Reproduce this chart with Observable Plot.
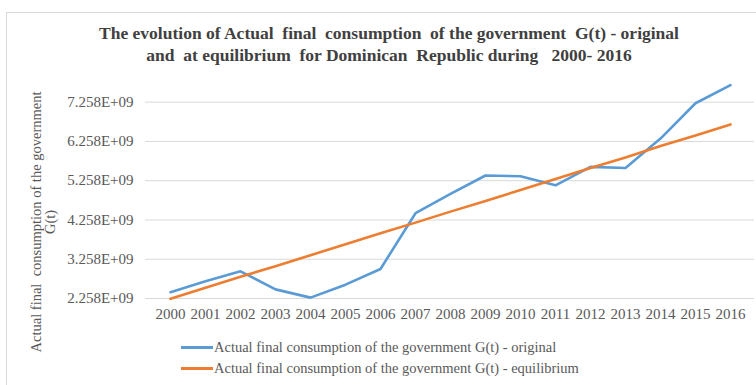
<!DOCTYPE html>
<html>
<head>
<meta charset="utf-8">
<script src="https://cdn.jsdelivr.net/npm/d3@7"></script>
<script src="https://cdn.jsdelivr.net/npm/@observablehq/plot@0.6"></script>
<style>
  html, body { margin: 0; padding: 0; background: #fff; }
  #wrap { position: relative; width: 756px; height: 385px; overflow: hidden; font-family: "Liberation Serif", "Times New Roman", serif; }
  #frame { position: absolute; left: 6px; top: 12px; width: 780px; height: 400px; border: 1px solid #d9d9d9; box-sizing: border-box; }
  #title { position: absolute; left: 0; top: 22px; width: 778px; text-align: center; font-weight: bold; font-size: 17.5px; line-height: 22px; color: #404040; }
  #chart { position: absolute; left: 0; top: 60px; }
  #ylab { position: absolute; left: 43px; top: 222px; width: 320px; transform: translate(-50%, -50%) rotate(-90deg); text-align: center; font-size: 14.5px; line-height: 14px; color: #595959; }
  #legend { position: absolute; left: 181px; top: 337px; font-size: 14.5px; color: #595959; }
  .row { display: flex; align-items: center; height: 21px; }
  .sw { width: 32px; height: 3px; margin-right: 1px; }
</style>
</head>
<body>
<div id="wrap">
  <div id="frame"></div>
  <div id="title">The evolution of Actual&nbsp; final&nbsp; consumption&nbsp; of the government&nbsp; G(t) - original<br>and&nbsp; at equilibrium&nbsp; for Dominican&nbsp; Republic during&nbsp;&nbsp; 2000- 2016</div>
  <div id="chart"></div>
  <div id="ylab">Actual final&nbsp; consumption of the government<br>G(t)</div>
  <div id="legend"></div>
</div>
<script>
const years = ["2000","2001","2002","2003","2004","2005","2006","2007","2008","2009","2010","2011","2012","2013","2014","2015","2016"];
const original = [2.42, 2.70, 2.95, 2.49, 2.28, 2.61, 3.01, 4.43, 4.92, 5.39, 5.37, 5.14, 5.61, 5.58, 6.33, 7.23, 7.69].map(v => v * 1e9);
const equilibrium = [2.25, 2.53, 2.81, 3.08, 3.36, 3.64, 3.92, 4.19, 4.47, 4.74, 5.02, 5.30, 5.58, 5.85, 6.14, 6.41, 6.69].map(v => v * 1e9);
const yTicks = [2.258e9, 3.258e9, 4.258e9, 5.258e9, 6.258e9, 7.258e9];
const seriesNames = [
  "Actual final consumption of the government G(t) - original",
  "Actual final consumption of the government G(t) - equilibrium"
];
const colors = ["#5b9bd5", "#ed7d31"];

const rows = [];
years.forEach((y, i) => {
  rows.push({year: y, value: original[i], series: seriesNames[0]});
  rows.push({year: y, value: equilibrium[i], series: seriesNames[1]});
});

const fmt = d => (d / 1e9).toFixed(3) + "E+09";

const chart = Plot.plot({
  width: 756,
  height: 270,
  marginTop: 22,
  marginBottom: 32,
  marginLeft: 145,
  marginRight: 2,
  style: { fontFamily: "Liberation Serif, Times New Roman, serif", fontSize: "15px", color: "#595959", background: "transparent" },
  x: { type: "point", domain: years, padding: 0.5, label: null },
  y: { domain: [2.258e9, 7.758e9], label: null },
  color: { domain: seriesNames, range: colors },
  marks: [
    Plot.ruleY(yTicks, { stroke: "#d9d9d9", strokeWidth: 1 }),
    Plot.axisY({ ticks: yTicks, tickFormat: fmt, tickSize: 0, tickPadding: 12, label: null, fill: "#595959" }),
    Plot.axisX({ tickSize: 0, tickPadding: 10, label: null, fill: "#595959" }),
    Plot.line(rows, { x: "year", y: "value", z: "series", stroke: "series", strokeWidth: 2.6 })
  ]
});
document.getElementById("chart").appendChild(chart);

const legend = document.getElementById("legend");
seriesNames.forEach((name, i) => {
  const r = document.createElement("div");
  r.className = "row";
  const sw = document.createElement("span");
  sw.className = "sw";
  sw.style.background = colors[i];
  const t = document.createElement("span");
  t.textContent = name;
  r.appendChild(sw);
  r.appendChild(t);
  legend.appendChild(r);
});
</script>
</body>
</html>
